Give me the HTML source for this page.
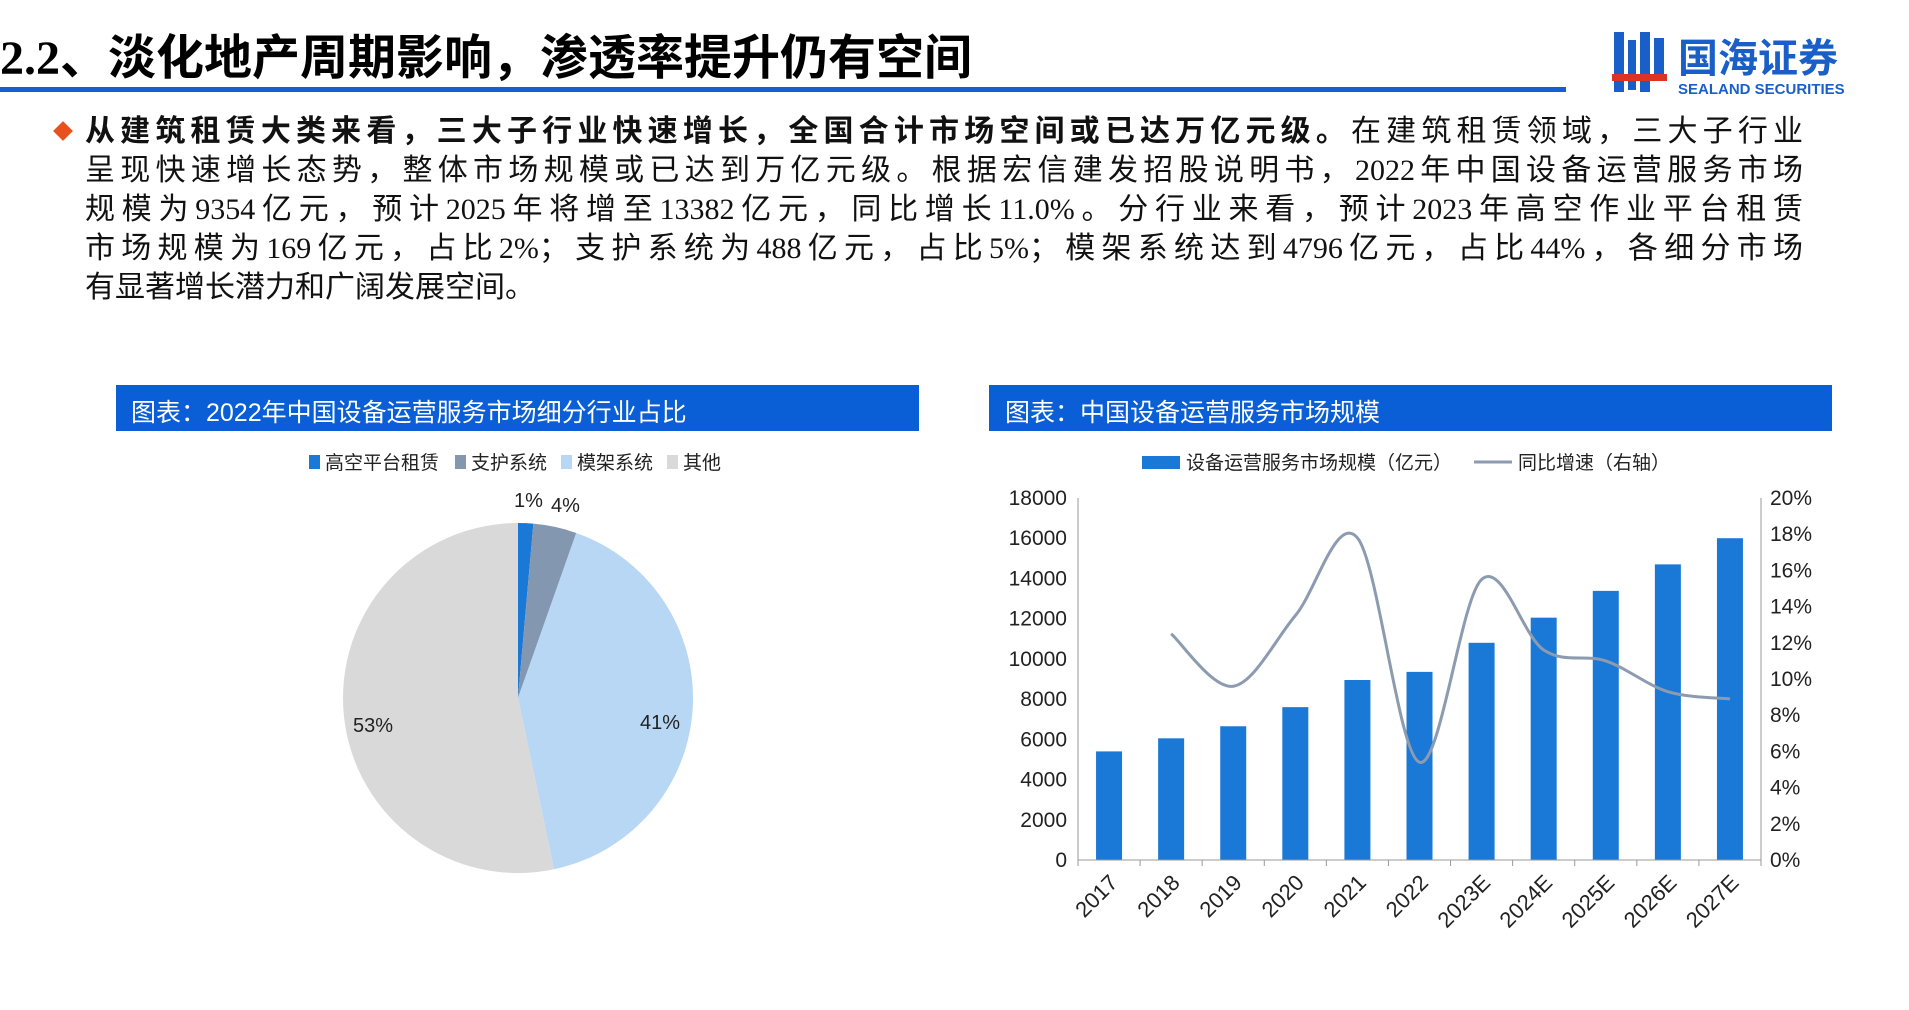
<!DOCTYPE html>
<html><head><meta charset="utf-8"><style>
body{margin:0;width:1909px;height:1010px;background:#fff;overflow:hidden;font-family:"Liberation Sans","Noto Sans CJK SC",sans-serif;position:relative}
.t{position:absolute;white-space:nowrap}
.p{position:absolute;left:85px;width:1718px;font-family:"Liberation Serif","Noto Sans CJK SC",serif;font-size:30px;color:#111}
.p div{height:39px;line-height:39px;text-align:justify;text-align-last:justify}
</style></head><body>
<div class="t" style="left:0;top:18px;font-size:48px;font-weight:bold;font-family:'Liberation Serif','Noto Sans CJK SC',serif;color:#000">2.2、淡化地产周期影响，渗透率提升仍有空间</div>
<div style="position:absolute;left:0;top:87px;width:1566px;height:5px;background:#1560d0"></div>
<svg style="position:absolute;left:1612px;top:30px" width="290" height="70">
<rect x="2" y="2" width="10" height="60" fill="#1a5fc8"/><rect x="16" y="10" width="8" height="50" fill="#1a5fc8"/><rect x="28" y="2" width="10" height="60" fill="#1a5fc8"/><rect x="42" y="8" width="10" height="40" fill="#1a5fc8"/><rect x="0" y="44" width="55" height="7" fill="#d32"/>
<text x="66" y="42" font-size="40" font-weight="bold" fill="#1a5fc8" font-family="Liberation Sans,Noto Sans CJK SC,sans-serif">国海证券</text>
<text x="66" y="64" font-size="15" font-weight="bold" fill="#1a5fc8" font-family="Liberation Sans,sans-serif">SEALAND SECURITIES</text></svg>
<div style="position:absolute;left:56px;top:124px;width:14px;height:14px;background:#e8501e;transform:rotate(45deg)"></div>
<div class="p" style="top:112px">
<div><b>从建筑租赁大类来看，三大子行业快速增长，全国合计市场空间或已达万亿元级。</b>在建筑租赁领域，三大子行业</div>
<div>呈现快速增长态势，整体市场规模或已达到万亿元级。根据宏信建发招股说明书，2022年中国设备运营服务市场</div>
<div>规模为9354亿元，预计2025年将增至13382亿元，同比增长11.0%。分行业来看，预计2023年高空作业平台租赁</div>
<div>市场规模为169亿元，占比2%；支护系统为488亿元，占比5%；模架系统达到4796亿元，占比44%，各细分市场</div>
<div style="text-align-last:left">有显著增长潜力和广阔发展空间。</div>
</div>
<div style="position:absolute;left:116px;top:385px;width:803px;height:46px;background:#0a5fd6"></div>
<div class="t" style="left:131px;top:393px;font-size:25px;color:#fff">图表：2022年中国设备运营服务市场细分行业占比</div>
<div style="position:absolute;left:989px;top:385px;width:843px;height:46px;background:#0a5fd6"></div>
<div class="t" style="left:1005px;top:393px;font-size:25px;color:#fff">图表：中国设备运营服务市场规模</div>
<svg style="position:absolute;left:0;top:0" width="1909" height="1010" font-family="Liberation Sans,Noto Sans CJK SC,sans-serif">
<g font-size="19" fill="#222">
<rect x="309" y="455" width="11" height="14" fill="#1a78d6"/><text x="325" y="469">高空平台租赁</text>
<rect x="455" y="455" width="11" height="14" fill="#8497b0"/><text x="471" y="469">支护系统</text>
<rect x="561" y="455" width="11" height="14" fill="#b7d7f5"/><text x="577" y="469">模架系统</text>
<rect x="667" y="455" width="11" height="14" fill="#d9d9d9"/><text x="683" y="469">其他</text>
</g>
<g id="pie"></g>
<g font-size="20" fill="#222"><text x="514" y="507">1%</text><text x="551" y="512">4%</text><text x="640" y="729">41%</text><text x="353" y="732">53%</text></g>
<g font-size="19" fill="#222">
<rect x="1142" y="456" width="38" height="13" fill="#1a78d6"/><text x="1186" y="469">设备运营服务市场规模（亿元）</text>
<line x1="1474" y1="462" x2="1512" y2="462" stroke="#8c9bb0" stroke-width="3"/><text x="1518" y="469">同比增速（右轴）</text>
</g>
<g id="bar"></g>
</svg>
<script>
var NS="http://www.w3.org/2000/svg";
function el(p,t,a,tx){var e=document.createElementNS(NS,t);for(var k in a)e.setAttribute(k,a[k]);if(tx)e.textContent=tx;p.appendChild(e);return e;}
var pie=document.getElementById('pie'),cx=518,cy=698,r=175;
var sl=[[1.4,'#1a78d6'],[4.0,'#8497b0'],[41.3,'#b7d7f5'],[53.3,'#d9d9d9']],a0=0;
sl.forEach(function(s){var a1=a0+s[0]/100*2*Math.PI;
var x0=cx+r*Math.sin(a0),y0=cy-r*Math.cos(a0),x1=cx+r*Math.sin(a1),y1=cy-r*Math.cos(a1);
el(pie,'path',{d:'M'+cx+','+cy+'L'+x0+','+y0+'A'+r+','+r+' 0 '+((a1-a0)>Math.PI?1:0)+' 1 '+x1+','+y1+'Z',fill:s[1]});a0=a1;});
var g=document.getElementById('bar'),L=1078,R=1761,B=860,T=498,H=B-T,cw=(R-L)/11;
var v=[5400,6050,6650,7600,8950,9354,10800,12050,13382,14700,16000];
var yrs=['2017','2018','2019','2020','2021','2022','2023E','2024E','2025E','2026E','2027E'];
var pc=[null,12.5,9.6,13.5,17.8,5.4,15.5,11.6,11.0,9.3,8.9];
for(var i=0;i<=9;i++){var y=B-i*H/9;
el(g,'text',{x:1067,y:y+7,'font-size':21,'text-anchor':'end',fill:'#222'},String(i*2000));}
for(var i=0;i<=10;i++){var y=B-i*H/10;
el(g,'text',{x:1770,y:y+7,'font-size':21,fill:'#222'},(i*2)+'%');}
v.forEach(function(val,i){var c=L+cw*(i+.5),h=val/18000*H;
el(g,'rect',{x:c-13,y:B-h,width:26,height:h,fill:'#1a78d6'});
el(g,'line',{x1:L+cw*i,y1:B,x2:L+cw*i,y2:B+6,stroke:'#999'});
el(g,'text',{x:c+10,y:B+24,'font-size':22,'text-anchor':'end',fill:'#222',transform:'rotate(-45 '+(c+10)+' '+(B+24)+')'},yrs[i]);});
el(g,'line',{x1:L,y1:T,x2:L,y2:B,stroke:'#999'});el(g,'line',{x1:R,y1:T,x2:R,y2:B+6,stroke:'#999'});
el(g,'line',{x1:L,y1:B,x2:R,y2:B,stroke:'#999'});
var pts=[];for(var i=1;i<11;i++)pts.push([L+cw*(i+.5),B-pc[i]/20*H]);
var d='M'+pts[0];for(var i=0;i<pts.length-1;i++){var p0=pts[i-1]||pts[i],p1=pts[i],p2=pts[i+1],p3=pts[i+2]||p2;
d+='C'+(p1[0]+(p2[0]-p0[0])/6)+','+(p1[1]+(p2[1]-p0[1])/6)+' '+(p2[0]-(p3[0]-p1[0])/6)+','+(p2[1]-(p3[1]-p1[1])/6)+' '+p2[0]+','+p2[1];}
el(g,'path',{d:d,fill:'none',stroke:'#8c9bb0','stroke-width':3});
</script>
</body></html>
